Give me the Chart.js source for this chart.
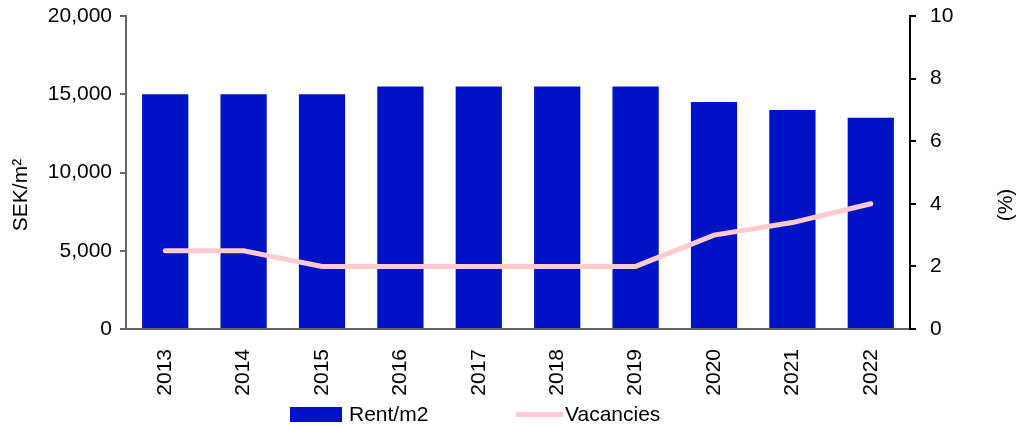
<!DOCTYPE html>
<html>
<head>
<meta charset="utf-8">
<script src="https://cdn.jsdelivr.net/npm/chart.js@4"></script>
<style>
  body { margin: 0; background: #fff; font-family: "Liberation Sans", Arial, sans-serif; }
  #wrap { position: relative; width: 1022px; height: 429px; }
  #legend { position: absolute; left: 0; top: 0; width: 1022px; height: 429px; pointer-events: none; }
  .leg-item { position: absolute; top: 402px; display: flex; align-items: center; font-size: 21px; color: #000; height: 24px; }
  .leg-box { width: 52px; height: 15px; margin-right: 7px; }
  .leg-line { width: 47px; height: 5px; margin-right: 2px; }
</style>
</head>
<body>
<div id="wrap">
  <canvas id="chart" width="1022" height="429"></canvas>
  <div id="legend"></div>
</div>
<script>
// data
const years = ["2013", "2014", "2015", "2016", "2017", "2018", "2019", "2020", "2021", "2022"];
const rent = [15000, 15000, 15000, 15500, 15500, 15500, 15500, 14500, 14000, 13500];
const vacancies = [2.5, 2.5, 2.0, 2.0, 2.0, 2.0, 2.0, 3.0, 3.4, 4.0];
const rentTicks = [0, 5000, 10000, 15000, 20000];
const vacTicks = [0, 2, 4, 6, 8, 10];

const BAR_COLOR = "#0012c6";
const LINE_COLOR = "#ffcbd1";
const FONT = { family: "'Liberation Sans', Arial, sans-serif", size: 21 };

// axis titles drawn by hand (right one reads bottom-to-top)
const axisTitles = {
  id: "axisTitles",
  afterDraw(chart) {
    const ctx = chart.ctx;
    ctx.save();
    ctx.font = `${FONT.size}px ${FONT.family}`;
    ctx.fillStyle = "#000";
    ctx.textAlign = "center";
    ctx.textBaseline = "middle";

    ctx.save();
    ctx.translate(21, 195);
    ctx.rotate(-Math.PI / 2);
    ctx.fillText("SEK/m\u00b2", 0, 0);
    ctx.restore();

    ctx.save();
    ctx.translate(1006, 205);
    ctx.rotate(-Math.PI / 2);
    ctx.fillText("(%)", 0, 0);
    ctx.restore();

    ctx.restore();
  }
};

// fixed axis sizes so the plot area sits where the original one does
function fixY(width) {
  return (s) => {
    s.width = width;
    s.paddingTop = 0;
    s.paddingBottom = 0;
  };
}

const chart = new Chart(document.getElementById("chart"), {
  data: {
    labels: years,
    datasets: [
      {
        type: "line",
        label: "Vacancies",
        data: vacancies,
        yAxisID: "y1",
        borderColor: LINE_COLOR,
        backgroundColor: LINE_COLOR,
        borderWidth: 5,
        pointRadius: 0,
        tension: 0,
        borderCapStyle: "round",
        order: 0
      },
      {
        type: "bar",
        label: "Rent/m2",
        data: rent,
        yAxisID: "y",
        backgroundColor: BAR_COLOR,
        categoryPercentage: 1,
        barPercentage: 0.59,
        order: 1
      }
    ]
  },
  options: {
    responsive: false,
    animation: false,
    layout: { padding: { top: 16 } },
    plugins: { legend: { display: false }, tooltip: { enabled: false } },
    scales: {
      x: {
        offset: true,
        grid: { display: false, drawTicks: false },
        border: { color: "#666", width: 2 },
        ticks: { color: "#000", font: FONT, minRotation: 90, maxRotation: 90, padding: 20 },
        afterFit: (s) => { s.height = 100; }
      },
      y: {
        position: "left",
        min: 0,
        max: 20000,
        afterBuildTicks: (s) => { s.ticks = rentTicks.map((v) => ({ value: v })); },
        grid: { drawOnChartArea: false, drawTicks: true, tickLength: 6, color: "#666", lineWidth: 2 },
        border: { color: "#666", width: 2 },
        ticks: { color: "#000", font: FONT, padding: 8, callback: (v) => v.toLocaleString("en-US") },
        afterFit: fixY(126)
      },
      y1: {
        position: "right",
        min: 0,
        max: 10,
        afterBuildTicks: (s) => { s.ticks = vacTicks.map((v) => ({ value: v })); },
        grid: { drawOnChartArea: false, drawTicks: true, tickLength: 6, color: "#000", lineWidth: 2 },
        border: { color: "#000", width: 2 },
        ticks: { color: "#000", font: FONT, padding: 14 },
        afterFit: fixY(112)
      }
    }
  },
  plugins: [axisTitles]
});

// legend
function buildLegend() {
  const legend = document.getElementById("legend");
  const items = [
    { ds: chart.data.datasets[1], left: 290, kind: "leg-box" },
    { ds: chart.data.datasets[0], left: 516, kind: "leg-line" }
  ];
  items.forEach((it) => {
    const div = document.createElement("div");
    div.className = "leg-item";
    div.style.left = it.left + "px";
    const mark = document.createElement("span");
    mark.className = it.kind;
    mark.style.background = it.ds.backgroundColor;
    const txt = document.createElement("span");
    txt.textContent = it.ds.label;
    div.appendChild(mark);
    div.appendChild(txt);
    legend.appendChild(div);
  });
}
buildLegend();
</script>
</body>
</html>
